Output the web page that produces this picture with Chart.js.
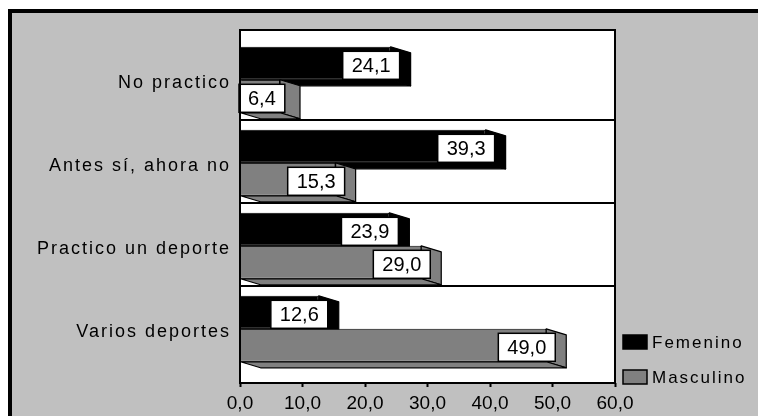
<!DOCTYPE html>
<html>
<head>
<meta charset="utf-8">
<script src="https://cdn.jsdelivr.net/npm/chart.js@4/dist/chart.umd.min.js"></script>
<style>
  html, body { margin: 0; padding: 0; background: #ffffff; }
  canvas { display: block; }
</style>
</head>
<body>
<canvas id="chart" width="758" height="416"></canvas>
<script>
// Survey answers: sport practice by sex (%)
const categories = ['No practico', 'Antes sí, ahora no', 'Practico un deporte', 'Varios deportes'];
const femenino = [24.1, 39.3, 23.9, 12.6];
const masculino = [6.4, 15.3, 29.0, 49.0];
const seriesNames = ['Femenino', 'Masculino'];
const seriesColors = ['#000000', '#808080'];
const xTickValues = [0, 10, 20, 30, 40, 50, 60];

// Category bands on a numeric index axis, so the band centres and separators can sit freely
const BAND_CENTER = 0.6;
const BAND_EDGE = 1.09;
const Y_MAX = 4.253;
const DEPTH_X = 20, DEPTH_Y = 6;
const LABEL_FONT = '"Liberation Sans", Arial, sans-serif';

const fmt = v => v.toFixed(1).replace('.', ',');

function toPoints(values) {
  return values.map((v, i) => ({ x: v, y: i + BAND_CENTER }));
}

// Frame, plot background and band separators
const backdrop = {
  id: 'backdrop',
  beforeDraw(chart) {
    const { ctx, chartArea: a, width, height } = chart;
    ctx.save();
    ctx.fillStyle = '#ffffff';
    ctx.fillRect(0, 0, width, height);
    ctx.fillStyle = '#000000';
    ctx.fillRect(8, 9, width - 8, height - 9);
    ctx.fillStyle = '#c0c0c0';
    ctx.fillRect(12, 13, width - 12, height - 13);
    ctx.fillStyle = '#ffffff';
    ctx.fillRect(a.left, a.top, a.right - a.left, a.bottom - a.top);
    ctx.restore();
    // category labels are drawn with extra tracking
    ctx.letterSpacing = '2px';
  },
  beforeDatasetsDraw(chart) {
    const { ctx, chartArea: a } = chart;
    ctx.letterSpacing = '0px';
    const y = chart.scales.y;
    ctx.save();
    ctx.strokeStyle = '#000000';
    ctx.lineWidth = 2;
    for (let i = 0; i < categories.length - 1; i++) {
      const py = Math.round(y.getPixelForValue(i + BAND_EDGE));
      ctx.beginPath();
      ctx.moveTo(a.left, py);
      ctx.lineTo(a.right, py);
      ctx.stroke();
    }
    // receding faces of every bar, drawn behind the front faces
    chart.data.datasets.forEach((ds, di) => {
      const meta = chart.getDatasetMeta(di);
      meta.data.forEach(bar => {
        const { x, y: cy, base, height } = bar.getProps(['x', 'y', 'base', 'height'], true);
        const top = cy - height / 2, bot = cy + height / 2;
        ctx.fillStyle = ds.backgroundColor;
        ctx.strokeStyle = '#000000';
        ctx.lineWidth = 1.2;
        ctx.lineJoin = 'round';
        // side face
        ctx.beginPath();
        ctx.moveTo(x, top);
        ctx.lineTo(x + DEPTH_X, top + DEPTH_Y);
        ctx.lineTo(x + DEPTH_X, bot + DEPTH_Y);
        ctx.lineTo(x, bot);
        ctx.closePath();
        ctx.fill();
        ctx.stroke();
        // underside
        ctx.beginPath();
        ctx.moveTo(base, bot);
        ctx.lineTo(x, bot);
        ctx.lineTo(x + DEPTH_X, bot + DEPTH_Y);
        ctx.lineTo(base + DEPTH_X, bot + DEPTH_Y);
        ctx.closePath();
        ctx.fill();
        ctx.stroke();
      });
    });
    ctx.restore();
  },
  afterDatasetsDraw(chart) {
    const { ctx, chartArea: a } = chart;
    ctx.save();
    // value boxes at the end of each bar
    ctx.font = '20px ' + LABEL_FONT;
    ctx.textAlign = 'center';
    ctx.textBaseline = 'middle';
    chart.data.datasets.forEach((ds, di) => {
      const meta = chart.getDatasetMeta(di);
      meta.data.forEach((bar, i) => {
        const { x, y: cy } = bar.getProps(['x', 'y'], true);
        const text = fmt(ds.data[i].x);
        const w = ctx.measureText(text).width + 18;
        const h = 28;
        let right = x + 9;
        let left = right - w;
        if (left < a.left + 5) { left = a.left - 1; right = left + w; }
        const top = cy + 2 - h / 2;
        ctx.fillStyle = '#ffffff';
        ctx.fillRect(left, top, w, h);
        ctx.strokeStyle = '#000000';
        ctx.lineWidth = 1.5;
        ctx.strokeRect(left, top, w, h);
        ctx.fillStyle = '#000000';
        ctx.fillText(text, (left + right) / 2, cy + 3);
      });
    });
    // plot frame
    ctx.strokeStyle = '#000000';
    ctx.lineWidth = 2;
    ctx.strokeRect(a.left, a.top, a.right - a.left, a.bottom - a.top);
    ctx.restore();
  },
  afterDraw(chart) {
    const { ctx } = chart;
    ctx.save();
    ctx.letterSpacing = '2px';
    ctx.font = '17px ' + LABEL_FONT;
    ctx.textAlign = 'left';
    ctx.textBaseline = 'middle';
    const rows = [342, 377];
    seriesNames.forEach((name, i) => {
      const yy = rows[i];
      ctx.fillStyle = seriesColors[i];
      ctx.fillRect(623, yy - 7, 24, 14);
      ctx.strokeStyle = '#000000';
      ctx.lineWidth = 1.5;
      ctx.strokeRect(623, yy - 7, 24, 14);
      ctx.fillStyle = '#000000';
      ctx.fillText(name, 652, yy + 1);
    });
    ctx.letterSpacing = '0px';
    ctx.restore();
  }
};

new Chart(document.getElementById('chart'), {
  type: 'bar',
  data: {
    datasets: [
      { label: seriesNames[0], data: toPoints(femenino), backgroundColor: seriesColors[0], borderColor: '#000000', borderWidth: 1 },
      { label: seriesNames[1], data: toPoints(masculino), backgroundColor: seriesColors[1], borderColor: '#000000', borderWidth: 1 }
    ]
  },
  options: {
    indexAxis: 'y',
    responsive: false,
    animation: false,
    devicePixelRatio: 1,
    categoryPercentage: 0.795,
    barPercentage: 1,
    layout: { padding: { top: 30, right: 143, left: 0, bottom: 0 } },
    plugins: { legend: { display: false }, tooltip: { enabled: false } },
    scales: {
      x: {
        type: 'linear',
        min: 0,
        max: 60,
        afterBuildTicks(scale) { scale.ticks = xTickValues.map(v => ({ value: v })); },
        afterFit(scale) { scale.height = 33; },
        grid: { drawOnChartArea: false, drawTicks: true, tickLength: 4, tickWidth: 2, tickColor: '#000000' },
        border: { display: false },
        ticks: {
          z: 1,
          padding: 5,
          color: '#000000',
          font: { family: LABEL_FONT, size: 19 },
          maxRotation: 0,
          callback: v => fmt(v)
        }
      },
      y: {
        type: 'linear',
        reverse: true,
        offset: false,
        min: 0,
        max: Y_MAX,
        afterBuildTicks(scale) { scale.ticks = categories.map((c, i) => ({ value: i + BAND_CENTER })); },
        afterFit(scale) { scale.width = 240; },
        grid: { display: false },
        border: { display: false },
        ticks: {
          padding: 1,
          labelOffset: 3,
          color: '#000000',
          font: { family: LABEL_FONT, size: 18 },
          callback: v => categories[Math.round(v - BAND_CENTER)]
        }
      }
    }
  },
  plugins: [backdrop]
});
</script>
</body>
</html>
